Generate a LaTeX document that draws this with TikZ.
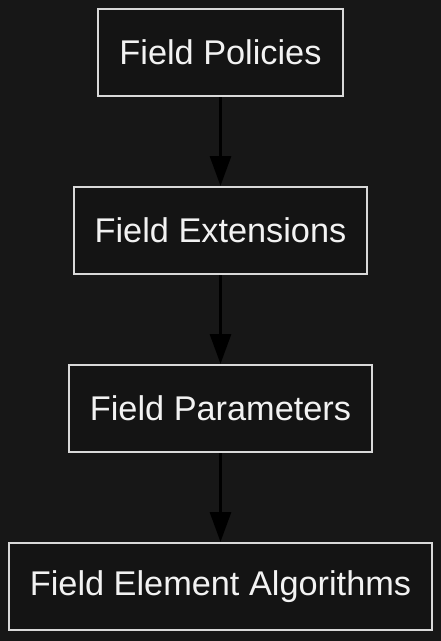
\documentclass[tikz,border=0pt]{standalone}
\usepackage{fontspec}
\setmainfont{Liberation Sans}
\usetikzlibrary{positioning, arrows.meta}

\begin{document}
\begin{tikzpicture}[x=1pt, y=1pt, node distance=89pt,
		fieldbox/.style={draw=boxline, fill=boxfill, line width=2pt, text=boxtext, inner xsep=21pt, minimum height=87pt, font=\fontsize{34.3}{40}\selectfont},
		flow/.style={draw=black, line width=3pt, -{Triangle[length=30pt, width=21pt]}}]
		\definecolor{bg}{HTML}{171717}
		\definecolor{boxfill}{HTML}{141414}
		\definecolor{boxline}{HTML}{D9D9D9}
		\definecolor{boxtext}{HTML}{F2F2F2}
		\fill[bg] (0,0) rectangle (441,-641);
		\useasboundingbox (0,0) rectangle (441,-641);
		\node[fieldbox] (policies) at (220.5,-52.5) {Field Policies};
		\node[fieldbox, below=of policies] (extensions) {Field Extensions};
		\node[fieldbox, below=of extensions] (parameters) {Field Parameters};
		\node[fieldbox, below=of parameters] (algorithms) {Field Element Algorithms};
		\draw[flow] (policies) -- (extensions);
		\draw[flow] (extensions) -- (parameters);
		\draw[flow] (parameters) -- (algorithms);
	\end{tikzpicture}
\end{document}
